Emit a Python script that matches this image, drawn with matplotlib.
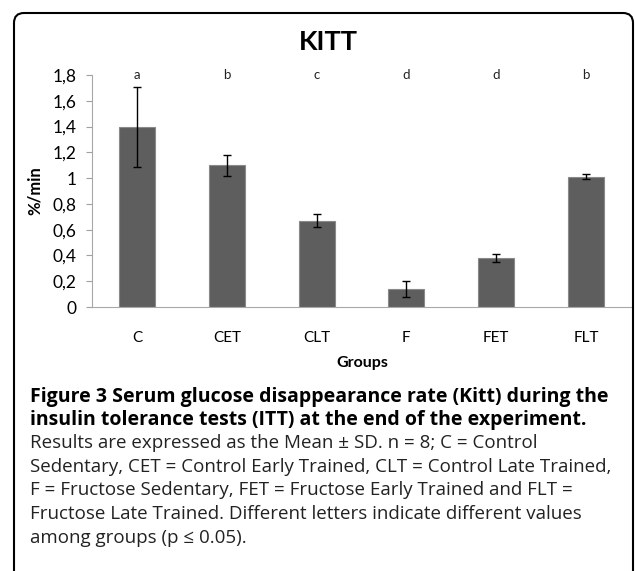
import matplotlib
matplotlib.use('Agg')
from matplotlib import pyplot as plt
from matplotlib.patches import FancyBboxPatch
from matplotlib.transforms import IdentityTransform

# data
groups = ['C', 'CET', 'CLT', 'F', 'FET', 'FLT']
kitt = [1.40, 1.10, 0.67, 0.14, 0.38, 1.01]
sd = [0.31, 0.08, 0.05, 0.06, 0.03, 0.02]
letters = ['a', 'b', 'c', 'd', 'd', 'b']
yticks = [0, 0.2, 0.4, 0.6, 0.8, 1.0, 1.2, 1.4, 1.6, 1.8]
ytick_labels = ['0', '0,2', '0,4', '0,6', '0,8', '1', '1,2', '1,4', '1,6', '1,8']

caption_bold = [
    'Figure 3 Serum glucose disappearance rate (Kitt) during the',
    'insulin tolerance tests (ITT) at the end of the experiment.',
]
caption = [
    'Results are expressed as the Mean \u00b1 SD. n = 8; C = Control',
    'Sedentary, CET = Control Early Trained, CLT = Control Late Trained,',
    'F = Fructose Sedentary, FET = Fructose Early Trained and FLT =',
    'Fructose Late Trained. Different letters indicate different values',
    'among groups (p \u2264 0.05).',
]

W, H = 635, 571
fig = plt.figure(figsize=(W / 100, H / 100), dpi=100)


def px(x, y):
    # pixel position (from top-left) -> figure fraction
    return x / W, 1 - y / H


chart_font = 'Lato'
cap_font = 'Open Sans'

ax = fig.add_axes([92 / W, 1 - 307 / H, 539 / W, 232 / H])
x = range(len(groups))
ax.bar(x, kitt, width=0.4, color='#5e5e5e', edgecolor='#8a8a8a', linewidth=0.8,
       yerr=sd, error_kw=dict(ecolor='black', elinewidth=1, capsize=3, capthick=1))

for i, lab in enumerate(letters):
    ax.text(i, 1.8, lab, ha='center', va='center', fontsize=9.5,
            family=chart_font, color='#222222')

ax.set_xlim(-0.5, 5.5)
ax.set_ylim(0, 1.8)
ax.set_yticks(yticks)
ax.set_yticklabels(ytick_labels, family=chart_font, fontsize=12.5)
ax.set_xticks(list(x))
ax.set_xticklabels(groups, family=chart_font, fontsize=11)
ax.tick_params(axis='y', direction='out', length=4, width=0.8, color='#a0a0a0', pad=7)
ax.tick_params(axis='x', length=0, pad=17)
for s in ['top', 'right']:
    ax.spines[s].set_visible(False)
ax.spines['left'].set_color('#a8a8a8')
ax.spines['bottom'].set_color('#a8a8a8')
ax.set_facecolor('none')

fig.text(*px(35, 191), '%/min', rotation=90, ha='center', va='center',
         fontsize=12, fontweight='bold', family=chart_font)
fig.text(*px(362, 363), 'Groups', ha='center', va='center',
         fontsize=11.5, fontweight='bold', family=chart_font)
fig.text(*px(328, 42), 'KITT', ha='center', va='center',
         fontsize=19.5, fontweight='bold', family=chart_font)

# caption below the chart
bold_y = [397, 420]
for line, yy in zip(caption_bold, bold_y):
    fig.text(*px(30, yy), line, ha='left', va='center', fontsize=14,
             fontweight='bold', family=cap_font)
reg_y = [443, 467, 490, 514, 538]
for line, yy in zip(caption, reg_y):
    fig.text(*px(30, yy), line, ha='left', va='center', fontsize=13.5,
             family=cap_font, color='#222222')

# rounded frame around the figure
frame = FancyBboxPatch((14, -30), 619, H - 13 + 30,
                       boxstyle='round,pad=0,rounding_size=10',
                       transform=IdentityTransform(), fill=False,
                       edgecolor='black', linewidth=1.5)
fig.add_artist(frame)

fig.savefig('out.png', dpi=100)
